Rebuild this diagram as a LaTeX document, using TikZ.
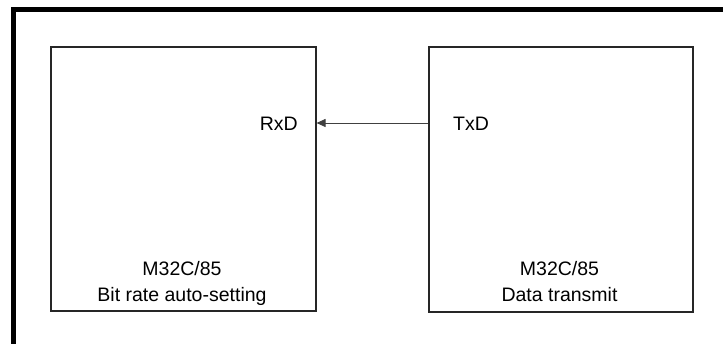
\documentclass[tikz,border=0pt]{standalone}
\usepackage{fontspec}
\setmainfont{Liberation Sans}
\usetikzlibrary{arrows.meta}
\begin{document}
\begin{tikzpicture}[x=1pt,y=-1pt,
  chip/.style={draw=black!85,line width=1.1pt},
  lbl/.style={font=\fontsize{19.5}{26}\selectfont,inner sep=0pt},
  sig/.style={draw=black!75,line width=0.9pt,-{Triangle[length=9pt,width=8pt]}}]
\useasboundingbox (0,0) rectangle (723,344);
\clip (0,0) rectangle (723,344);
\draw[line width=5pt] (13.5,9.5) rectangle (740,360);
\node[chip,minimum width=265pt,minimum height=264pt,inner sep=0pt] (rx) at (183.5,179) {};
\node[chip,minimum width=264pt,minimum height=265pt,inner sep=0pt] (tx) at (561,179.5) {};
\node[lbl,anchor=base east] (rxd) at (298,131) {RxD};
\node[lbl,anchor=base west] (txd) at (453,131) {TxD};
\node[lbl,align=center,anchor=north] (rxlab) at (182,261) {M32C/85\\Bit rate auto-setting};
\node[lbl,align=center,anchor=north] (txlab) at (559.5,261) {M32C/85\\Data transmit};
\draw[sig] (tx.west |- 0,123) -- (rx.east |- 0,123);
\end{tikzpicture}
\end{document}
